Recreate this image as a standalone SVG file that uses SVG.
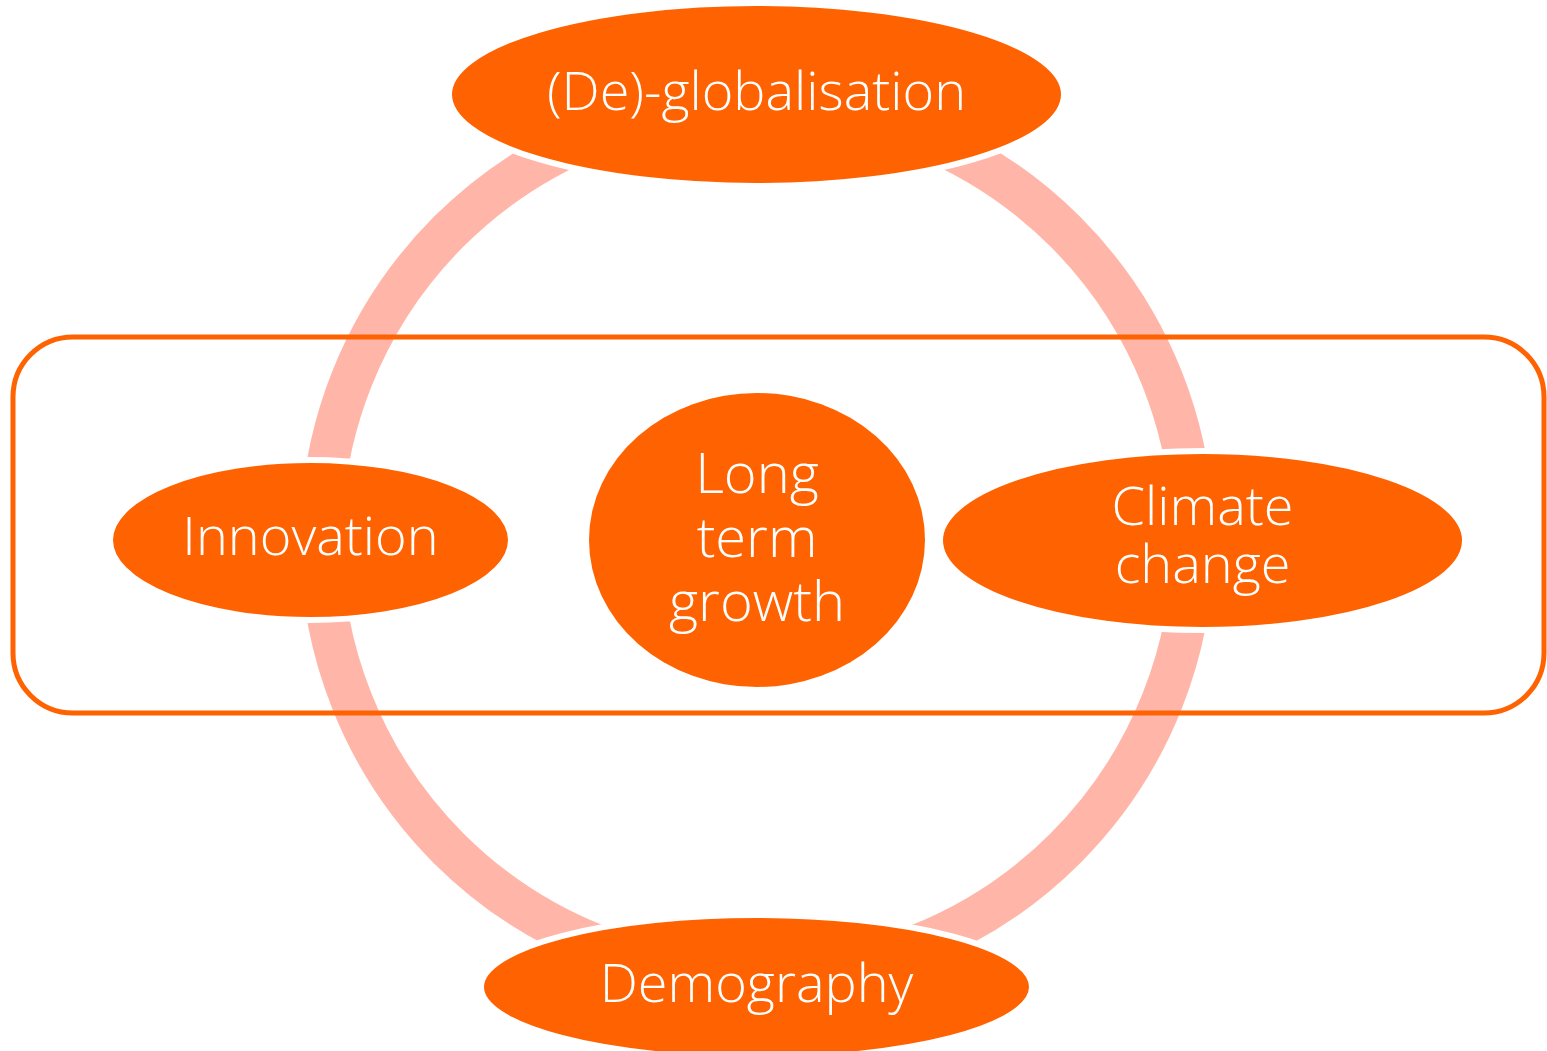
<svg xmlns="http://www.w3.org/2000/svg" width="1547" height="1051" viewBox="0 0 1547 1051">
  <style>
    .ring { fill: none; stroke: #FFB6A8; stroke-width: 42; stroke-linecap: butt; }
    .frame { fill: none; stroke: #FF6200; stroke-width: 5; }
    .node { fill: #FF6200; stroke: #FFFFFF; stroke-width: 6; }
    .core { fill: #FF6200; }
    .label { fill: #FFFFFF; font-family: "Open Sans", "Noto Sans", "Liberation Sans", sans-serif; font-weight: 300; font-size: 54px; text-anchor: middle; }
    .big { font-size: 56px; }
  </style>
  <rect width="1547" height="1051" fill="#FFFFFF"/>

  <!-- ring of drivers: four arcs around the centre -->
  <g id="connectors">
    <path class="ring" d="M 757 104 A 436 436 0 0 1 1193 540"/>
    <path class="ring" d="M 1193 540 A 436 436 0 0 1 757 976"/>
    <path class="ring" d="M 757 976 A 436 436 0 0 1 321 540"/>
    <path class="ring" d="M 321 540 A 436 436 0 0 1 757 104"/>
  </g>

  <!-- rounded frame around the middle row -->
  <rect id="frame" class="frame" x="13" y="337" width="1531" height="376" rx="60" ry="60"/>

  <g id="globalisation">
    <ellipse class="node" cx="756.5" cy="94.5" rx="307.5" ry="91.5"/>
    <text class="label" x="756.5" y="110">(De)-globalisation</text>
  </g>

  <g id="innovation">
    <ellipse class="node" cx="310.5" cy="540" rx="200.5" ry="80"/>
    <text class="label" x="310.5" y="555">Innovation</text>
  </g>

  <g id="growth">
    <ellipse class="core" cx="757" cy="540" rx="168" ry="147"/>
    <text class="label big" x="757" y="493">Long</text>
    <text class="label big" x="757" y="557">term</text>
    <text class="label big" x="757" y="621">growth</text>
  </g>

  <g id="climate">
    <ellipse class="node" cx="1202.5" cy="540.5" rx="262.5" ry="89.5"/>
    <text class="label" x="1202.5" y="525">Climate</text>
    <text class="label" x="1202.5" y="583">change</text>
  </g>

  <g id="demography">
    <ellipse class="node" cx="756.5" cy="987" rx="275.5" ry="72"/>
    <text class="label" x="756.5" y="1002">Demography</text>
  </g>
</svg>
